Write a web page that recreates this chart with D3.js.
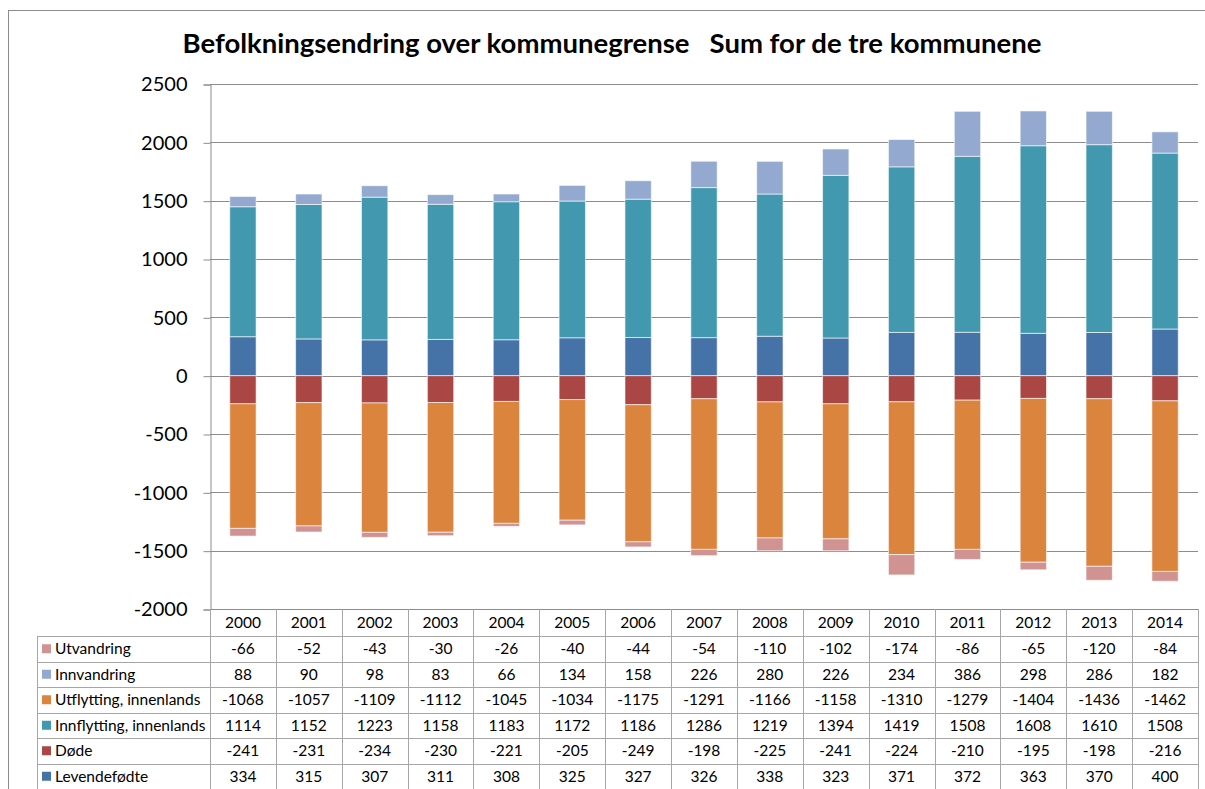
<!DOCTYPE html>
<html lang="no">
<head>
<meta charset="UTF-8">
<title>Befolkningsendring</title>
<script src="https://d3js.org/d3.v7.min.js"></script>
<style>
    body { margin: 0; background: #fff; }
    svg { display: block; font-family: Lato, "Open Sans", sans-serif; }
    .yAxis text { font-size: 20px; fill: #000; }
    .cell { font-size: 15.5px; fill: #000; }
</style>
</head>
<body>
<svg width="1205" height="789"></svg>
<script>
    // data
    let years = ["2000","2001","2002","2003","2004","2005","2006","2007","2008","2009","2010","2011","2012","2013","2014"];
    let levendefodte = [334,315,307,311,308,325,327,326,338,323,371,372,363,370,400];
    let dode = [-241,-231,-234,-230,-221,-205,-249,-198,-225,-241,-224,-210,-195,-198,-216];
    let innflytting = [1114,1152,1223,1158,1183,1172,1186,1286,1219,1394,1419,1508,1608,1610,1508];
    let utflytting = [-1068,-1057,-1109,-1112,-1045,-1034,-1175,-1291,-1166,-1158,-1310,-1279,-1404,-1436,-1462];
    let innvandring = [88,90,98,83,66,134,158,226,280,226,234,386,298,286,182];
    let utvandring = [-66,-52,-43,-30,-26,-40,-44,-54,-110,-102,-174,-86,-65,-120,-84];
    let yTicks = [-2000,-1500,-1000,-500,0,500,1000,1500,2000,2500];

    // series in stacking order, table shows them reversed
    let series = [
        {key:"Levendefødte", values:levendefodte, color:"#4572A7"},
        {key:"Døde", values:dode, color:"#AA4643"},
        {key:"Innflytting, innenlands", values:innflytting, color:"#4198AF"},
        {key:"Utflytting, innenlands", values:utflytting, color:"#DB843D"},
        {key:"Innvandring", values:innvandring, color:"#93A9CF"},
        {key:"Utvandring", values:utvandring, color:"#D19392"}
    ];

    let svg = d3.select("svg");
    let margins = {left:210, right:7, top:84, bottom:180};
    let W = 1205, H = 789;

    // outer chart frame
    svg.append("rect").attr("x", 8.5).attr("y", 10.5).attr("width", 1210).attr("height", 800)
        .attr("fill", "none").attr("stroke", "#8c8c8c").attr("stroke-width", 1);

    let rows = years.map(function (y, i){
        let r = {year:y};
        series.forEach(function (s){ r[s.key] = s.values[i]; });
        return r;
    });
    let stacked = d3.stack().keys(series.map(function (s){return s.key}))
        .offset(d3.stackOffsetDiverging)(rows);

    let xScale = d3.scaleBand().domain(years).range([margins.left, W - margins.right]).padding(0);
    let yScale = d3.scaleLinear().domain([-2000, 2500]).range([H - margins.bottom, margins.top]);

    // gridlines
    svg.append("g").selectAll("line").data(yTicks).enter().append("line")
        .attr("x1", margins.left).attr("x2", W - margins.right)
        .attr("y1", function (d){return Math.round(yScale(d)) + 0.5})
        .attr("y2", function (d){return Math.round(yScale(d)) + 0.5})
        .attr("stroke", "#8c8c8c").attr("stroke-width", 1);

    // bars
    let barW = xScale.bandwidth() * 0.4;
    let groups = svg.append("g").selectAll("g").data(stacked).enter().append("g")
        .attr("fill", function (d, i){return series[i].color});
    groups.selectAll("rect").data(function (d){return d}).enter().append("rect")
        .attr("x", function (d){return xScale(d.data.year) + (xScale.bandwidth() - barW) / 2})
        .attr("y", function (d){return yScale(Math.max(d[0], d[1]))})
        .attr("height", function (d){return Math.abs(yScale(d[0]) - yScale(d[1]))})
        .attr("width", barW)
        .attr("stroke", "#ffffff").attr("stroke-opacity", 0.6).attr("stroke-width", 1);

    // y axis
    let yAxis = svg.append("g").attr("class", "yAxis")
        .attr("transform", "translate(" + (margins.left + 0.5) + ",0.5)")
        .call(d3.axisLeft(yScale).tickValues(yTicks).tickSize(7).tickPadding(16).tickFormat(d3.format("d")));
    yAxis.select(".domain").attr("stroke", "#8c8c8c");
    yAxis.selectAll(".tick line").attr("stroke", "#8c8c8c");
    yAxis.selectAll(".tick text").attr("font-family", "Lato, sans-serif").attr("font-size", 20)
        .text(function (d){return d < 0 ? "-" + Math.abs(d) : d});

    // title
    svg.append("text").attr("x", 612).attr("y", 53).attr("text-anchor", "middle")
        .attr("font-size", 27.5).attr("font-weight", "bold").style("white-space", "pre")
        .text("Befolkningsendring over kommunegrense   Sum for de tre kommunene");

    // data table
    let tableTop = yScale(-2000);
    let headerH = 27;
    let tableRows = series.slice().reverse();
    let rowScale = d3.scaleBand().domain(tableRows.map(function (s){return s.key}))
        .range([tableTop + headerH, H]);
    let tableLeft = 37;
    let table = svg.append("g").attr("stroke", "#a6a6a6").attr("stroke-width", 1);

    // vertical lines
    let xEdges = years.map(function (y){return xScale(y)}).concat([W - margins.right]);
    table.selectAll("line.v").data(xEdges).enter().append("line")
        .attr("x1", function (d){return Math.round(d) + 0.5}).attr("x2", function (d){return Math.round(d) + 0.5})
        .attr("y1", tableTop).attr("y2", H);
    table.append("line").attr("x1", tableLeft + 0.5).attr("x2", tableLeft + 0.5)
        .attr("y1", rowScale.range()[0]).attr("y2", H);
    // horizontal lines
    let yEdges = tableRows.map(function (s){return rowScale(s.key)});
    table.selectAll("line.h").data(yEdges).enter().append("line")
        .attr("x1", tableLeft).attr("x2", W - margins.right)
        .attr("y1", function (d){return Math.round(d) + 0.5}).attr("y2", function (d){return Math.round(d) + 0.5});

    // header years
    svg.append("g").selectAll("text").data(years).enter().append("text").attr("class", "cell")
        .attr("x", function (d){return xScale(d) + xScale.bandwidth() / 2})
        .attr("y", tableTop + headerH / 2 + 5).attr("text-anchor", "middle")
        .text(function (d){return d});

    // row labels with colour keys
    let labels = svg.append("g").selectAll("g").data(tableRows).enter().append("g")
        .attr("transform", function (d){return "translate(0," + rowScale(d.key) + ")"});
    labels.append("rect").attr("x", 42).attr("y", rowScale.bandwidth() / 2 - 4.5)
        .attr("width", 9).attr("height", 9).attr("fill", function (d){return d.color});
    labels.append("text").attr("class", "cell").attr("x", 55).attr("y", rowScale.bandwidth() / 2 + 5.5)
        .text(function (d){return d.key});
    labels.selectAll("text.val").data(function (d){return d.values}).enter().append("text")
        .attr("class", "cell")
        .attr("x", function (d, i){return xScale(years[i]) + xScale.bandwidth() / 2})
        .attr("y", rowScale.bandwidth() / 2 + 5.5).attr("text-anchor", "middle")
        .text(function (d){return d});
</script>
</body>
</html>
